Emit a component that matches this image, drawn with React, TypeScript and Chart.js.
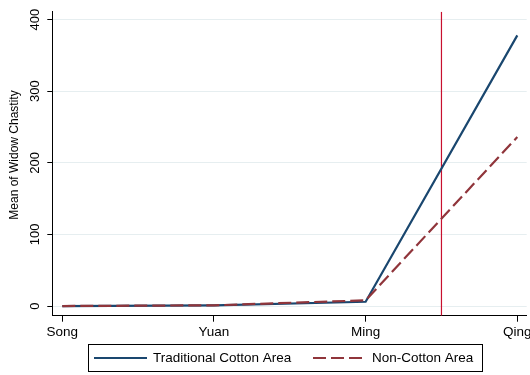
import { useEffect, useRef } from "react";
import { Chart, registerables } from "chart.js";

Chart.register(...registerables);

const categories = ["Song", "Yuan", "Ming", "Qing"];
const cottonValues = [0, 1, 6, 378];
const nonCottonValues = [0, 1, 8, 236];
const yTickValues = [0, 100, 200, 300, 400];
const markerPosition = 2.5;
const seriesNames = ["Traditional Cotton Area", "Non-Cotton Area"];
const yTitle = "Mean of Widow Chastity";

const Y_MIN = -13.5;
const Y_MAX = 411;
const X_MIN = -0.066;
const X_MAX = 3.062;

const FONT = "'Liberation Sans', Arial, Helvetica, sans-serif";
const BLUE = "#1a476f";
const MAROON = "#90353b";
const RED = "#c8102e";

const decorPlugin = {
  id: "stataDecor",
  afterDraw(chart: any) {
    const ctx = chart.ctx as CanvasRenderingContext2D;
    const ds = chart.data.datasets;
    ctx.save();
    // y-axis title
    ctx.save();
    ctx.translate(14.5, 155);
    ctx.rotate(-Math.PI / 2);
    ctx.font = `12px ${FONT}`;
    ctx.fillStyle = "#000";
    ctx.textAlign = "center";
    ctx.textBaseline = "middle";
    ctx.fillText(yTitle, 0, 0);
    ctx.restore();
    // legend
    const boxL = 88.5, boxT = 344.5, boxR = 482.5, boxB = 371.5;
    ctx.strokeStyle = "#000";
    ctx.lineWidth = 1;
    ctx.strokeRect(boxL, boxT, boxR - boxL, boxB - boxT);
    const cy = (boxT + boxB) / 2;
    ctx.font = `13.5px ${FONT}`;
    ctx.fillStyle = "#000";
    ctx.textBaseline = "middle";
    ctx.textAlign = "left";
    const items = [
      { x0: 94, x1: 147, tx: 153, d: ds[0] },
      { x0: 313, x1: 363, tx: 372, d: ds[1] },
    ];
    items.forEach((it, i) => {
      ctx.beginPath();
      ctx.strokeStyle = it.d.borderColor;
      ctx.lineWidth = it.d.borderWidth;
      ctx.setLineDash(it.d.borderDash || []);
      ctx.moveTo(it.x0, cy);
      ctx.lineTo(it.x1, cy);
      ctx.stroke();
      ctx.setLineDash([]);
      ctx.fillText(seriesNames[i], it.tx, cy + 0.5);
    });
    ctx.restore();
  },
};

export default function App() {
  const ref = useRef<HTMLCanvasElement | null>(null);

  useEffect(() => {
    document.body.style.margin = "0";
    const canvas = ref.current;
    if (!canvas) return;
    Chart.defaults.font.family = FONT;
    const chart = new Chart(canvas, {
      type: "line",
      data: {
        datasets: [
          {
            label: seriesNames[0],
            data: categories.map((_, i) => ({ x: i, y: cottonValues[i] })),
            borderColor: BLUE,
            backgroundColor: BLUE,
            borderWidth: 2.2,
            pointRadius: 0,
            tension: 0,
            order: 2,
          },
          {
            label: seriesNames[1],
            data: categories.map((_, i) => ({ x: i, y: nonCottonValues[i] })),
            borderColor: MAROON,
            backgroundColor: MAROON,
            borderWidth: 2.2,
            borderDash: [13, 5],
            pointRadius: 0,
            tension: 0,
            order: 1,
          },
          {
            label: "marker",
            data: [
              { x: markerPosition, y: Y_MIN },
              { x: markerPosition, y: Y_MAX },
            ],
            borderColor: RED,
            backgroundColor: RED,
            borderWidth: 1.2,
            pointRadius: 0,
            order: 3,
          },
        ],
      },
      options: {
        responsive: false,
        animation: false,
        devicePixelRatio: 1,
        layout: { padding: { top: 11.7, right: 3.3, bottom: 29.3, left: 0 } },
        plugins: {
          legend: { display: false },
          tooltip: { enabled: false },
        },
        scales: {
          x: {
            type: "linear",
            min: X_MIN,
            max: X_MAX,
            afterBuildTicks: (s: any) => {
              s.ticks = categories.map((_, i) => ({ value: i }));
            },
            afterFit: (s: any) => {
              s.height = 30;
              s.paddingLeft = 0;
              s.paddingRight = 0;
            },
            ticks: {
              callback: (v: any) => categories[v as number] ?? "",
              font: { size: 13.5 },
              color: "#000",
              padding: 2,
              autoSkip: false,
              maxRotation: 0,
              minRotation: 0,
            },
            grid: {
              drawOnChartArea: false,
              tickColor: "#000",
              tickLength: 6,
              tickWidth: 1,
            },
            border: { color: "#000", width: 1 },
          },
          y: {
            type: "linear",
            min: Y_MIN,
            max: Y_MAX,
            afterBuildTicks: (s: any) => {
              s.ticks = yTickValues.map((v) => ({ value: v }));
            },
            afterFit: (s: any) => {
              s.width = 52.3;
              s.paddingTop = 0;
              s.paddingBottom = 0;
            },
            ticks: {
              minRotation: 90,
              maxRotation: 90,
              crossAlign: "center",
              padding: 1,
              font: { size: 13 },
              color: "#000",
            },
            grid: {
              color: "#e6eef0",
              lineWidth: 1,
              tickColor: "#000",
              tickLength: 5,
            },
            border: { color: "#000", width: 1 },
          },
        },
      },
      plugins: [decorPlugin],
    } as any);
    return () => chart.destroy();
  }, []);

  return <canvas ref={ref} width={530} height={375} style={{ display: "block" }} />;
}
